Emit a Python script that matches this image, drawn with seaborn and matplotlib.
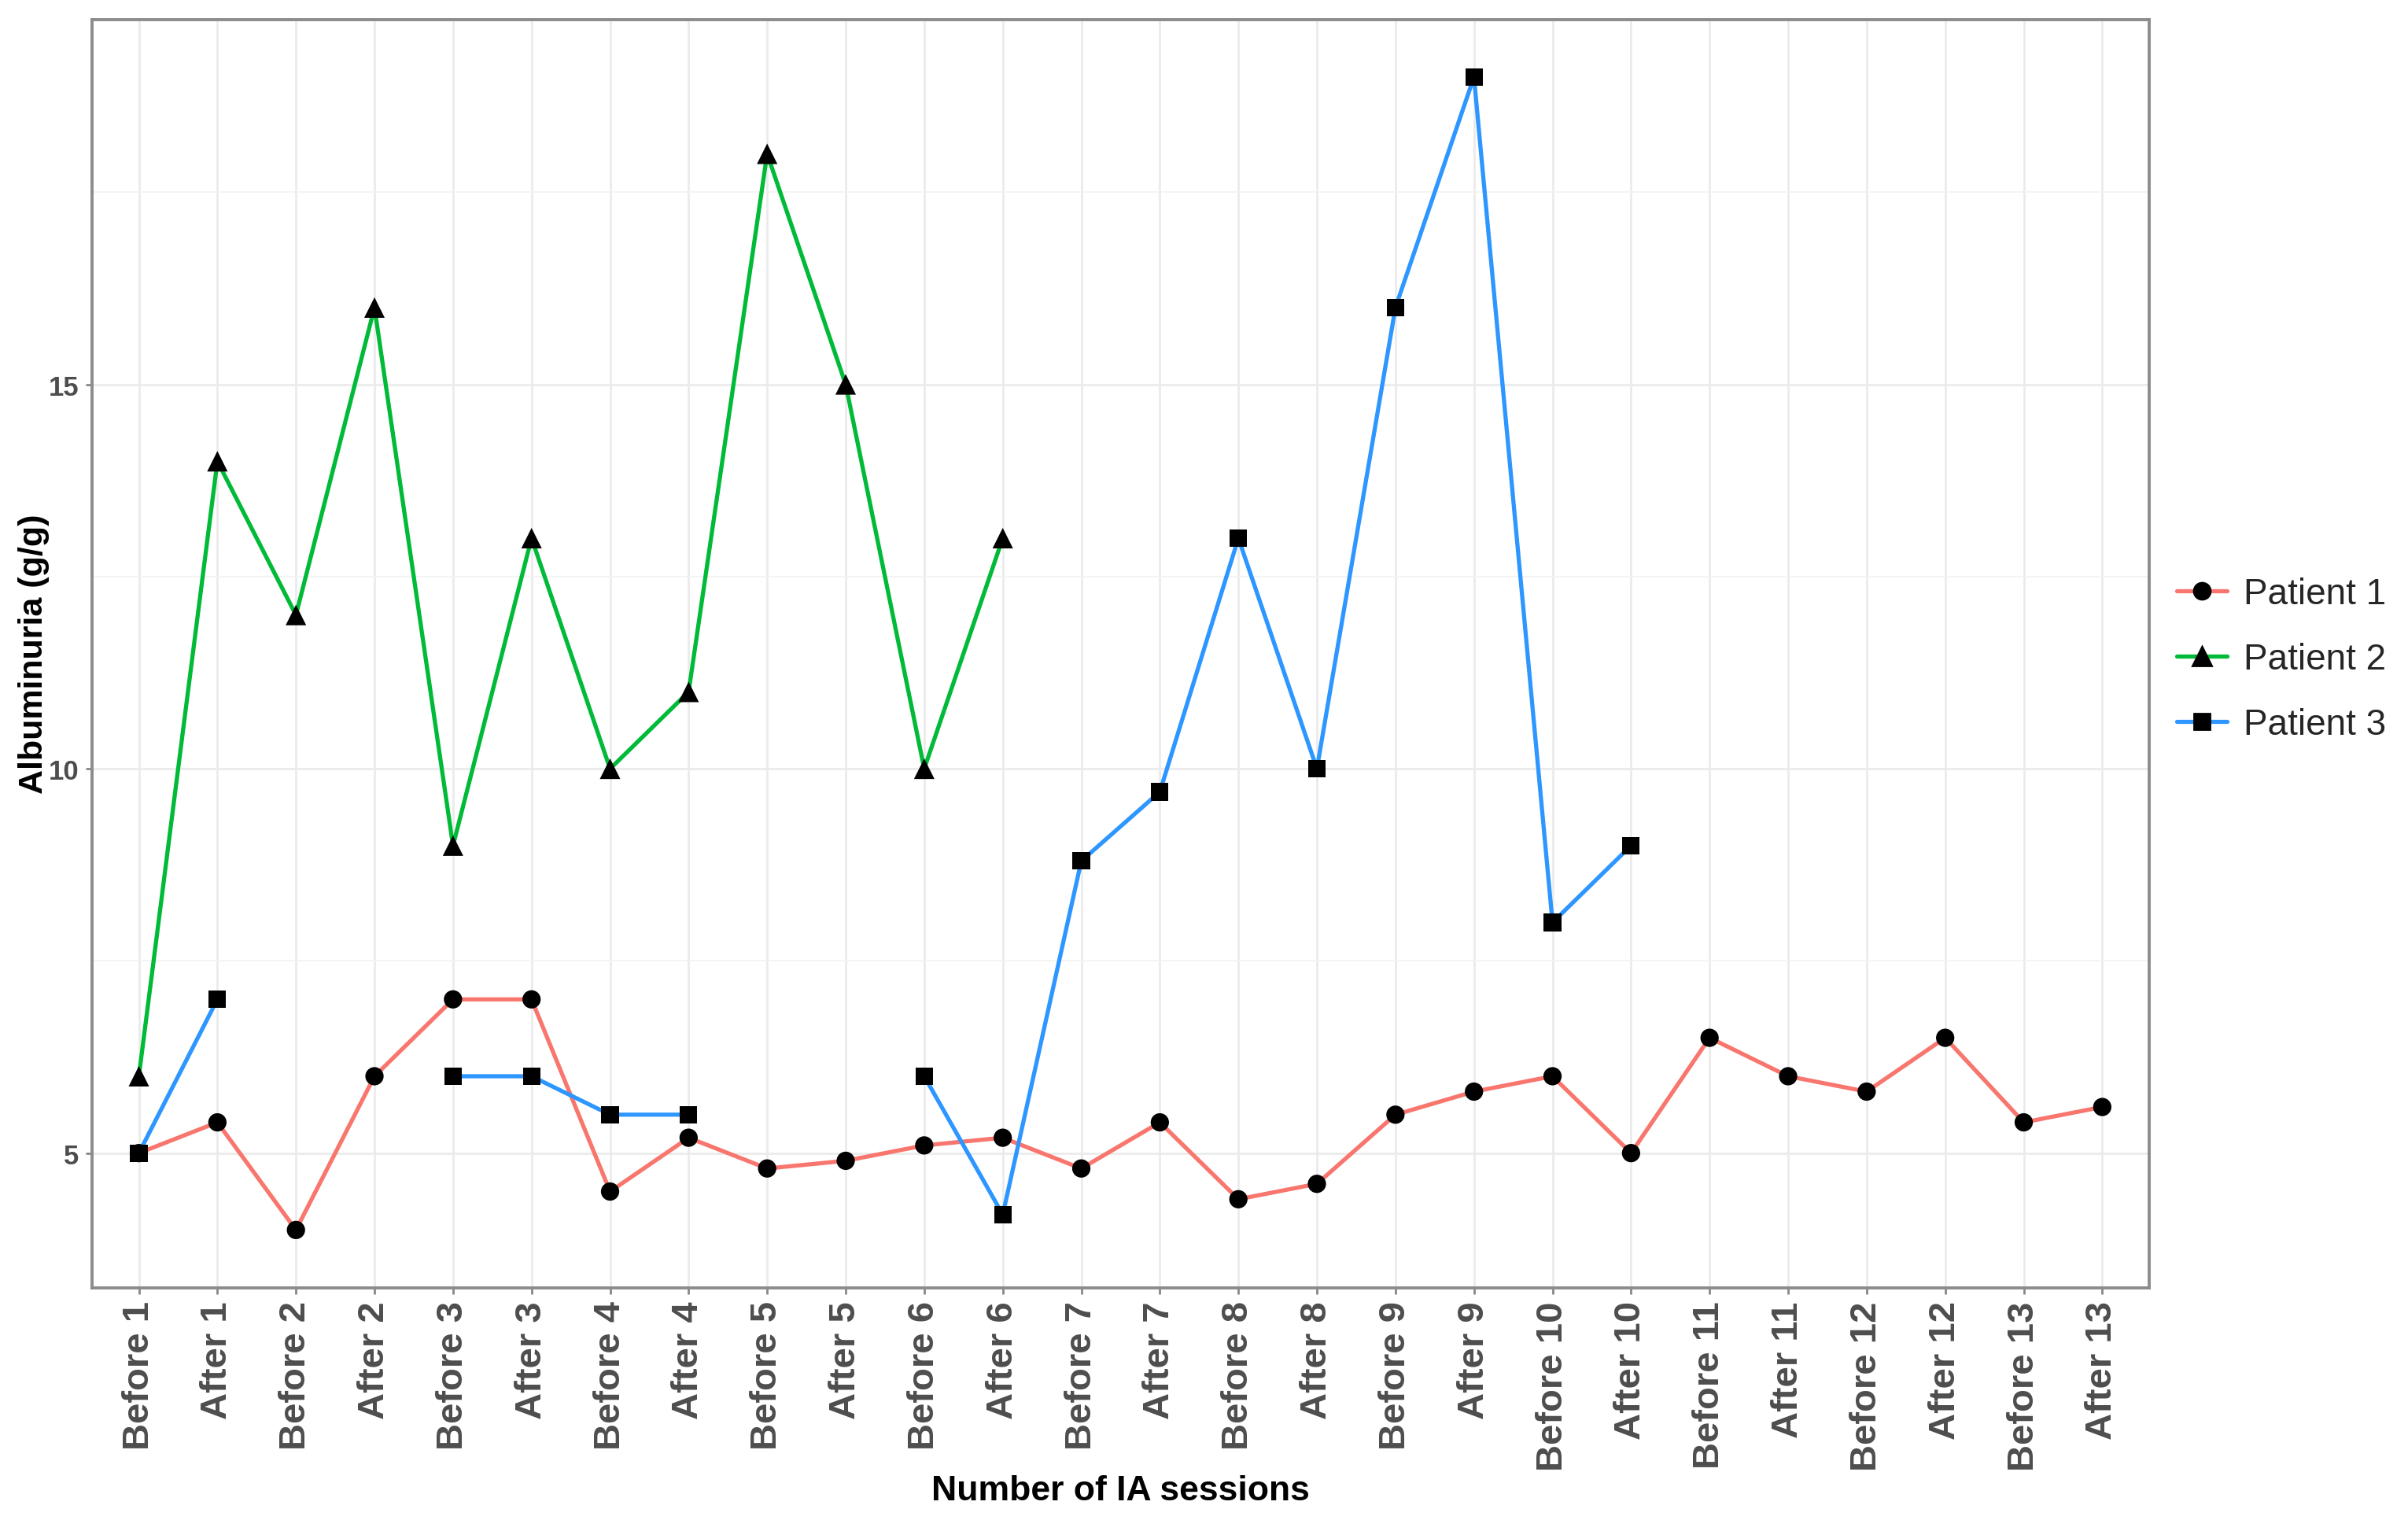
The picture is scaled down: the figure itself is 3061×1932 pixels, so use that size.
import numpy as np
import pandas as pd
import seaborn as sns
import matplotlib.pyplot as plt
from matplotlib.lines import Line2D

# DATA
sessions = ['Before 1', 'After 1', 'Before 2', 'After 2', 'Before 3', 'After 3',
            'Before 4', 'After 4', 'Before 5', 'After 5', 'Before 6', 'After 6',
            'Before 7', 'After 7', 'Before 8', 'After 8', 'Before 9', 'After 9',
            'Before 10', 'After 10', 'Before 11', 'After 11', 'Before 12', 'After 12',
            'Before 13', 'After 13']
nan = np.nan
patient1 = [5.0, 5.4, 4.0, 6.0, 7.0, 7.0, 4.5, 5.2, 4.8, 4.9, 5.1, 5.2, 4.8, 5.4,
            4.4, 4.6, 5.5, 5.8, 6.0, 5.0, 6.5, 6.0, 5.8, 6.5, 5.4, 5.6]
patient2 = [6, 14, 12, 16, 9, 13, 10, 11, 18, 15, 10, 13] + [nan] * 14
patient3 = [5, 7, nan, nan, 6, 6, 5.5, 5.5, nan, nan, 6, 4.2, 8.8, 9.7, 13, 10,
            16, 19, 8, 9] + [nan] * 6
patients = ['Patient 1', 'Patient 2', 'Patient 3']
colors = ['#F8766D', '#00BA38', '#2D96FF']
markers = ['o', '^', 's']
marker_sizes = [70, 88, 64]

# LONG TABLE, SPLIT INTO RUNS SO GAPS STAY OPEN
frames = []
for name, vals in zip(patients, [patient1, patient2, patient3]):
    d = pd.DataFrame({'session': sessions, 'pos': range(len(sessions)),
                      'value': vals, 'patient': name})
    d['segment'] = name + '_' + d['value'].isna().cumsum().astype(str)
    frames.append(d)
df = pd.concat(frames).dropna(subset=['value'])

sns.set_theme(style='white')
plt.rcParams['font.family'] = ['Liberation Sans', 'DejaVu Sans']

fig = plt.figure(figsize=(15.305, 9.665), dpi=200)
ax = fig.add_axes([0.0381, 0.1528, 0.8545, 0.834])

pal = dict(zip(patients, colors))
sns.lineplot(data=df, x='pos', y='value', hue='patient', units='segment',
             estimator=None, palette=pal, linewidth=1.9, legend=False, ax=ax,
             sort=False)
sns.scatterplot(data=df, x='pos', y='value', style='patient', hue='patient',
                size='patient', sizes=dict(zip(patients, marker_sizes)),
                palette={p: 'black' for p in patients},
                markers=dict(zip(patients, markers)), edgecolor='black',
                linewidth=0, legend=False, ax=ax, zorder=5)

# AXES, GRID, BORDER
ax.set_xlim(-0.6, len(sessions) - 0.4)
ax.set_ylim(3.25, 19.75)
ax.set_xticks(range(len(sessions)))
ax.set_xticklabels(sessions, rotation=90, fontsize=17, fontweight='bold',
                   color='#4D4D4D', va='top', ha='center')
ax.set_yticks([5, 10, 15])
ax.set_yticklabels(['5', '10', '15'], fontsize=12.5, fontweight='bold', color='#4D4D4D')
ax.set_yticks([7.5, 12.5, 17.5], minor=True)
ax.grid(True, which='major', color='#EBEBEB', linewidth=1.0)
ax.grid(True, which='minor', axis='y', color='#F2F2F2', linewidth=0.6)
ax.set_axisbelow(True)
ax.tick_params(axis='both', which='major', length=3, width=1, color='#888888',
               bottom=True, left=True, pad=3)
ax.tick_params(axis='y', which='minor', length=0)
for sp in ax.spines.values():
    sp.set_color('#8C8C8C')
    sp.set_linewidth(1.4)

ax.set_xlabel('Number of IA sessions', fontsize=16, fontweight='bold', color='black')
ax.set_ylabel('Albuminuria (g/g)', fontsize=15.5, fontweight='bold', color='black')
ax.xaxis.set_label_coords(0.5, -0.147)
ax.yaxis.set_label_coords(-0.0205, 0.5)

# LEGEND LIKE GGPLOT KEYS
handles = [Line2D([], [], color=c, linewidth=1.9, marker=m,
                  markersize=np.sqrt(s) * 0.9,
                  markerfacecolor='black', markeredgecolor='black')
           for c, m, s in zip(colors, markers, marker_sizes)]
fig.legend(handles, patients, loc='center left', bbox_to_anchor=(0.8965, 0.566),
           frameon=False, fontsize=16.5, handlelength=1.4, handletextpad=0.45,
           borderpad=0, labelspacing=0.85)

fig.savefig('out.png', dpi=200)
